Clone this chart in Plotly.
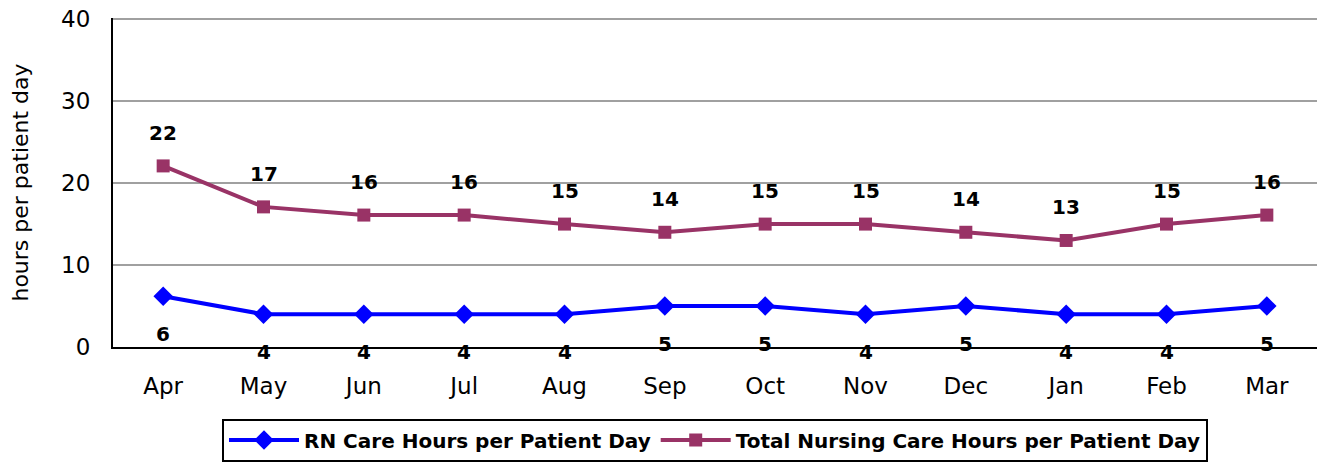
import plotly.graph_objects as go

months = ["Apr", "May", "Jun", "Jul", "Aug", "Sep", "Oct", "Nov", "Dec", "Jan", "Feb", "Mar"]
rn_hours = [6.2, 4, 4, 4, 4, 5, 5, 4, 5, 4, 4, 5]
total_hours = [22.1, 17.1, 16.1, 16.1, 15, 14, 15, 15, 14, 13, 15, 16.1]
y_ticks = [0, 10, 20, 30, 40]

FONT = "DejaVu Sans"

fig = go.Figure()
fig.add_trace(go.Scatter(
    x=months, y=rn_hours, mode="lines+markers",
    name="RN Care Hours per Patient Day",
    line=dict(color="#0000FF", width=4),
    marker=dict(symbol="diamond", size=15, color="#0000FF"),
))
fig.add_trace(go.Scatter(
    x=months, y=total_hours, mode="lines+markers",
    name="Total Nursing Care Hours per Patient Day",
    line=dict(color="#993366", width=4),
    marker=dict(symbol="square", size=13, color="#993366"),
))

for m, v in zip(months, rn_hours):
    fig.add_annotation(x=m, y=v, text=f"{round(v)}", showarrow=False, yshift=-38,
                       font=dict(family=FONT, size=20, color="black", weight="bold"))
for m, v in zip(months, total_hours):
    fig.add_annotation(x=m, y=v, text=f"{round(v)}", showarrow=False, yshift=33,
                       font=dict(family=FONT, size=20, color="black", weight="bold"))

fig.update_layout(
    width=1317, height=462,
    margin=dict(l=113, r=0, t=18, b=115),
    paper_bgcolor="white", plot_bgcolor="white",
    font=dict(family=FONT, color="black"),
    showlegend=True,
    legend=dict(orientation="h", x=0.5, xanchor="center",
                yref="container", y=0.094, yanchor="top",
                bordercolor="black", borderwidth=2,
                font=dict(family=FONT, size=20, color="black", weight="bold"),
                itemwidth=70, tracegroupgap=0),
    xaxis=dict(showline=True, linecolor="black", linewidth=2, showgrid=False,
               range=[-0.5, 11.5], tickfont=dict(size=23), ticks="",
               ticklabelstandoff=17, automargin=False),
    yaxis=dict(range=[0, 40.15], tickvals=y_ticks, showline=True, linecolor="black", linewidth=2,
               showgrid=True, gridcolor="#A0A0A0", gridwidth=1.5, zeroline=False,
               tickfont=dict(size=23), ticks="", ticklabelstandoff=16, automargin=False,
               title=dict(text="hours per patient day", font=dict(size=22), standoff=26)),
)

fig.write_html("out.html", config={"displayModeBar": False},
               post_script="document.body.style.margin='0';document.body.style.overflow='hidden';")
